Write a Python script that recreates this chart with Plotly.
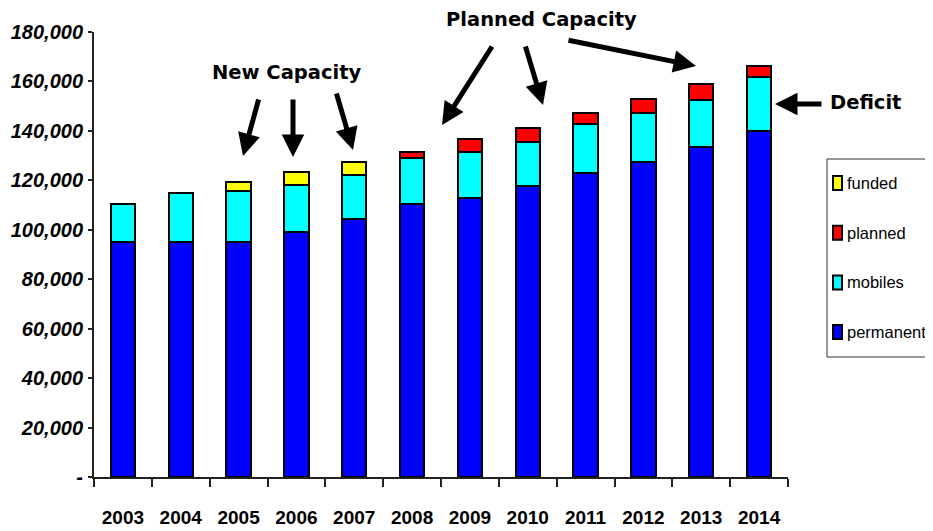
import plotly.graph_objects as go

years = ["2003", "2004", "2005", "2006", "2007", "2008", "2009", "2010", "2011", "2012", "2013", "2014"]
permanent = [95000, 95000, 95000, 99000, 104500, 110500, 112700, 117800, 123000, 127300, 133500, 140100]
mobiles = [15600, 19800, 20600, 19000, 17500, 18700, 18800, 17800, 19700, 19900, 19100, 21900]
planned = [0, 0, 0, 0, 0, 2400, 5400, 5400, 4700, 5500, 6300, 4300]
funded = [0, 0, 3800, 5500, 5500, 0, 0, 0, 0, 0, 0, 0]
y_ticks = [0, 20000, 40000, 60000, 80000, 100000, 120000, 140000, 160000, 180000]
y_tick_text = ["-", "20,000", "40,000", "60,000", "80,000", "100,000", "120,000", "140,000", "160,000", "180,000"]
legend_order = ["funded", "planned", "mobiles", "permanent"]

# page body has an 8px margin: figure is drawn 8px right/down of the window origin
OFF = 8
W, H = 933 - OFF, 531 - OFF
# plot area in window pixels: x 94..788, y 32..477
L, R, T, B = 94 - OFF, W - (788 - OFF), 32 - OFF, H - (477 - OFF)
PW, PH = W - L - R, H - T - B

def px(x):
    return (x - OFF - L) / PW

def py(y):
    return (H - B - (y - OFF)) / PH

TEXTF = "Liberation Sans, Arial"
HEAVY = "DejaVu Sans, Arial Black, Liberation Sans"

fig = go.Figure()
series = [
    ("permanent", permanent, "#0000FF"),
    ("mobiles", mobiles, "#00FFFF"),
    ("planned", planned, "#FF0000"),
    ("funded", funded, "#FFFF00"),
]
colors = {}
for name, vals, color in series:
    colors[name] = color
    fig.add_trace(go.Bar(
        x=years, y=vals, name=name, showlegend=False,
        marker=dict(color=color, line=dict(color="black", width=2)),
    ))

anns = []
shapes = []

def arrow(x0, y0, x1, y1):
    anns.append(dict(
        x=px(x1), y=py(y1), xref="paper", yref="paper",
        ax=x0 - x1, ay=y0 - y1, axref="pixel", ayref="pixel",
        text="", showarrow=True, arrowhead=2, arrowsize=0.9, arrowwidth=5,
        arrowcolor="black", standoff=0, startstandoff=0,
    ))

def label(x, y, text, anchor="center", size=19.5):
    anns.append(dict(
        x=px(x), y=py(y), xref="paper", yref="paper", text=text, showarrow=False,
        font=dict(family=HEAVY, size=size, color="black", weight="bold"),
        xanchor=anchor, yanchor="middle", borderpad=0,
    ))

label(287, 72, "New Capacity")
label(541, 20, "Planned Capacity", size=19.5)
label(829, 102, "Deficit", "left")

arrow(259, 98, 243, 156)
arrow(293, 98, 293, 157)
arrow(336, 92, 353, 150)
arrow(493, 45, 442, 125)
arrow(525, 45, 543, 105)
arrow(567, 40, 696, 66)
arrow(823, 104, 775, 104)

# legend box (extends past the right edge, as in the original)
shapes.append(dict(
    type="rect", xref="paper", yref="paper",
    x0=px(827), x1=px(960), y0=py(357), y1=py(159),
    line=dict(color="#333333", width=1), fillcolor="rgba(0,0,0,0)",
))
for i, name in enumerate(legend_order):
    cy = 183 + i * 49.7
    shapes.append(dict(
        type="rect", xref="paper", yref="paper",
        x0=px(833), x1=px(842), y0=py(cy + 7), y1=py(cy - 7),
        line=dict(color="black", width=2), fillcolor=colors[name],
    ))
    anns.append(dict(
        x=px(846), y=py(cy), xref="paper", yref="paper", text=name, showarrow=False,
        font=dict(family=TEXTF, size=16.5, color="black"),
        xanchor="left", yanchor="middle", borderpad=0,
    ))

fig.update_layout(
    width=W, height=H,
    margin=dict(l=L, r=R, t=T, b=B, autoexpand=False),
    paper_bgcolor="white", plot_bgcolor="white",
    barmode="stack", bargap=0.58,
    showlegend=False,
    annotations=anns,
    shapes=shapes,
)
fig.update_xaxes(
    type="category", showgrid=False, showline=True, linecolor="#222222", linewidth=2,
    ticks="outside", tickson="boundaries", ticklen=8, tickwidth=2, tickcolor="#222222",
    tickfont=dict(family=TEXTF, size=19, color="black", weight="bold"),
    tickangle=0, automargin=False,
    ticklabelstandoff=22,
    range=[-0.5, 11.5],
)
fig.update_yaxes(
    range=[0, 180000], showgrid=False, showline=True, linecolor="#222222", linewidth=2,
    ticks="outside", ticklen=4, tickwidth=2, tickcolor="#222222",
    tickvals=y_ticks, ticktext=y_tick_text, automargin=False,
    tickfont=dict(family=TEXTF, size=20, color="black", weight="bold", style="italic"),
    ticklabelstandoff=1,
)
fig.write_html("out.html")
